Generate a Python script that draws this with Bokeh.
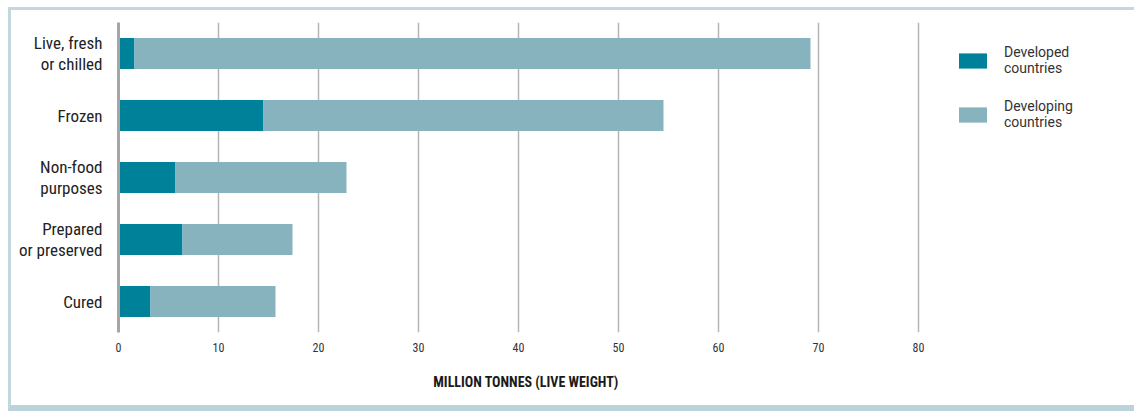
from bokeh.plotting import figure
from bokeh.models import Range1d, FactorRange, FixedTicker, ColumnDataSource, Legend, LegendItem
from bokeh.embed import file_html
from bokeh.resources import INLINE

# ---- data ----
categories = ["Live, fresh\nor chilled", "Frozen", "Non-food\npurposes", "Prepared\nor preserved", "Cured"]
developed = [1.6, 14.5, 5.7, 6.4, 3.2]
developing = [67.6, 40.0, 17.1, 11.0, 12.5]
series_keys = ["developed", "developing"]
series_labels = ["Developed\ncountries", "Developing\ncountries"]
x_ticks = [0, 10, 20, 30, 40, 50, 60, 70, 80]
axis_title = "MILLION TONNES (LIVE WEIGHT)"

colors = ["#00819a", "#87b3bf"]
COND = "'Roboto Condensed', 'Liberation Sans Narrow', 'DejaVu Sans Condensed', Roboto, sans-serif"

source = ColumnDataSource(dict(category=categories, developed=developed, developing=developing))

p = figure(frame_width=815, frame_height=310,
           y_range=FactorRange(*categories[::-1], range_padding=0),
           x_range=Range1d(0, 81.5),
           output_backend="svg", toolbar_location=None,
           min_border_left=107, min_border_top=12, min_border_right=201, min_border_bottom=73)

p.styles = {"box-sizing": "content-box",
            "margin-left": "8px",
            "margin-top": "7px",
            "border-left": "3px solid #c3d8de",
            "border-top": "3px solid #c3d8de",
            "border-bottom": "6px solid #bad2d9"}

renderers = p.hbar_stack(series_keys, y="category", height=0.5, color=colors,
                         source=source, line_color=None)

p.outline_line_color = None
p.ygrid.grid_line_color = None
p.xgrid.ticker = FixedTicker(ticks=x_ticks)
p.xgrid.grid_line_color = "#b5b5b5"
p.xgrid.grid_line_width = 1.5

p.xaxis.bounds = (x_ticks[0], x_ticks[-1])
p.xaxis.ticker = FixedTicker(ticks=x_ticks)
p.xaxis.axis_line_color = None
p.xaxis.major_tick_line_color = None
p.xaxis.minor_tick_line_color = None
p.xaxis.major_label_standoff = 4
p.xaxis.major_label_text_font = COND
p.xaxis.major_label_text_font_size = "12px"
p.xaxis.major_label_text_color = "#333333"
p.xaxis.axis_label = axis_title
p.xaxis.axis_label_text_font = COND
p.xaxis.axis_label_text_font_style = "bold"
p.xaxis.axis_label_text_font_size = "14px"
p.xaxis.axis_label_text_color = "#1a1a1a"
p.xaxis.axis_label_standoff = 19

p.yaxis.axis_line_color = "#a6a6a6"
p.yaxis.axis_line_width = 3
p.yaxis.major_tick_line_color = None
p.yaxis.minor_tick_line_color = None
p.yaxis.major_label_standoff = 10
p.yaxis.major_label_text_font = COND
p.yaxis.major_label_text_font_size = "17px"
p.yaxis.major_label_text_line_height = 1.05
p.yaxis.major_label_text_color = "#222222"

legend = Legend(items=[LegendItem(label=series_labels[i], renderers=[renderers[i]]) for i in range(2)],
                location="top_left", orientation="vertical",
                glyph_width=35, glyph_height=19, label_standoff=14, spacing=22,
                padding=0, margin=22, border_line_color=None, background_fill_alpha=0,
                label_text_font="Roboto", label_text_font_size="14px",
                label_text_line_height=1.5,
                label_text_color="#333333")
p.add_layout(legend, "right")

open("out.html", "w").write(file_html(p, INLINE))
